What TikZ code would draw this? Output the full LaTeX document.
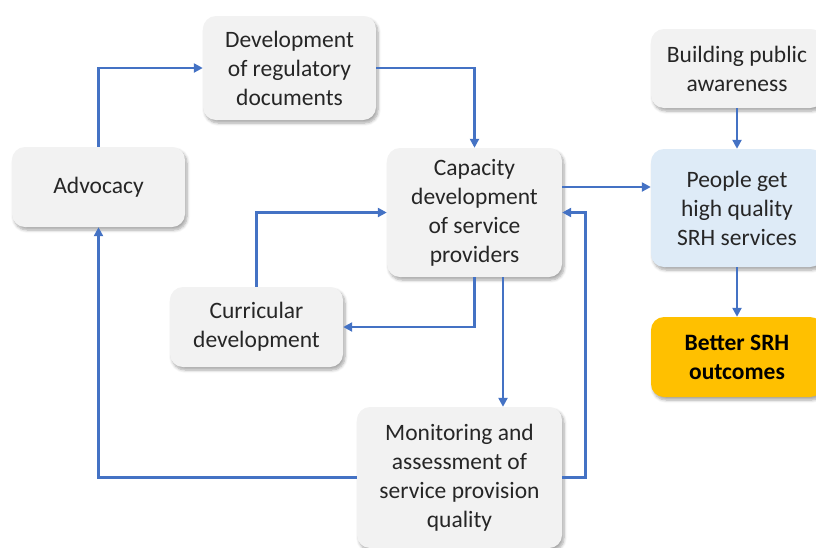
\documentclass[tikz,border=0pt]{standalone}
\usepackage{fontspec}
\setmainfont{Carlito}
\usetikzlibrary{arrows.meta,shadows.blur}
\definecolor{boxgray}{HTML}{F2F2F2}
\definecolor{boxblue}{HTML}{DEEBF7}
\definecolor{boxgold}{HTML}{FFC000}
\definecolor{linkblue}{HTML}{4472C4}
\definecolor{txt}{HTML}{262626}
\tikzset{
  box/.style={rectangle, rounded corners=13pt, fill=boxgray, align=center,
    text=txt, inner sep=2pt,
    font=\fontsize{23.5}{29}\selectfont,
    blur shadow={shadow xshift=2pt, shadow yshift=-3pt, shadow blur steps=6, shadow opacity=35, shadow blur radius=3pt}},
  link/.style={draw=linkblue, line width=2.8pt, -{Triangle[length=9pt,width=9pt]}}
}
\begin{document}
\begin{tikzpicture}[x=1pt,y=-1pt]
\useasboundingbox (0,0) rectangle (816,547);
\node[box, minimum width=173pt, minimum height=104pt] (dev) at (289.5,68) {Development\\of regulatory\\documents};
\node[box, minimum width=173pt, minimum height=80pt] (adv) at (98.5,187) {Advocacy};
\node[box, minimum width=175pt, minimum height=129pt] (cap) at (474.5,212.5) {Capacity\\development\\of service\\providers};
\node[box, minimum width=172pt, minimum height=79pt] (bpa) at (737,68.5) {Building public\\awareness};
\node[box, fill=boxblue, minimum width=172pt, minimum height=118pt] (ppl) at (737,208) {People get\\high quality\\SRH services};
\node[box, fill=boxgold, text=black, minimum width=172pt, minimum height=80pt, font=\fontsize{23.5}{29}\selectfont\bfseries] (bet) at (737,357) {Better SRH\\outcomes};
\node[box, minimum width=173pt, minimum height=80pt] (cur) at (256.5,327) {Curricular\\development};
\node[box, minimum width=205pt, minimum height=141pt] (mon) at (459.5,477.5) {Monitoring and\\assessment of\\service provision\\quality};

\draw[link] (adv.north) |- (dev.west);
\draw[link] (dev.east) -| (cap.north);
\draw[link] (cap.east |- 0,187) -- (ppl.west |- 0,187);
\draw[link] (cur.north) |- (cap.west);
\draw[link] (cap.south) |- (cur.east);
\draw[link] (cap.south -| 503,0) -- (mon.north -| 503,0);
\draw[link] (mon.east) -- ++(23,0) |- (cap.east);
\draw[link] (mon.west) -| (adv.south);
\draw[link] (bpa.south) -- (ppl.north);
\draw[link] (ppl.south) -- (bet.north);
\end{tikzpicture}
\end{document}
